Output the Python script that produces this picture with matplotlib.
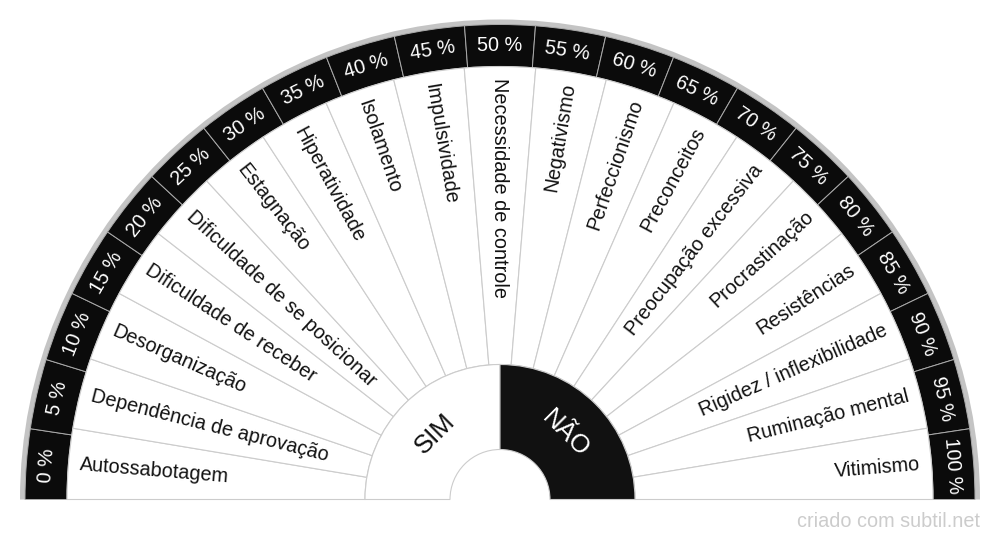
import math
import matplotlib
matplotlib.use("Agg")
from matplotlib import pyplot as plt
from matplotlib.patches import Wedge

# chart content
itens = ["Autossabotagem", "Dependência de aprovação", "Desorganização",
         "Dificuldade de receber", "Dificuldade de se posicionar", "Estagnação",
         "Hiperatividade", "Isolamento", "Impulsividade", "Necessidade de controle",
         "Negativismo", "Perfeccionismo", "Preconceitos", "Preocupação excessiva",
         "Procrastinação", "Resistências", "Rigidez / inflexibilidade",
         "Ruminação mental", "Vitimismo"]
percentuais = [0, 5, 10, 15, 20, 25, 30, 35, 40, 45, 50, 55, 60, 65, 70, 75, 80, 85, 90, 95, 100]
respostas = ["SIM", "NÃO"]

plt.rcParams['font.family'] = ['Liberation Sans', 'DejaVu Sans']

fig = plt.figure(figsize=(10, 5.4), dpi=100)
ax = fig.add_axes([0, 0, 1, 1])
ax.set_xlim(0, 1000)
ax.set_ylim(0, 540)
ax.set_aspect('equal')
ax.axis('off')

cx, cy = 500, 40.5
r_hole, r_mid, r_lab, r_pct, r_out = 50, 135, 433, 475, 480
linha = '#cccccc'

# outer gray rim
ax.add_patch(Wedge((cx, cy), r_out, 0, 180, width=r_out - r_pct, facecolor='#c4c4c4', edgecolor='none'))

# percentage ring
n = len(percentuais)
step = 180.0 / n
for j, p in enumerate(percentuais):
    a0 = 180 - (j + 1) * step
    ax.add_patch(Wedge((cx, cy), r_pct, a0, a0 + step, width=r_pct - r_lab,
                       facecolor='#0b0b0b', edgecolor='#aaaaaa', linewidth=0.7))
    ang = a0 + step / 2
    t = math.radians(ang)
    rr = (r_lab + r_pct) / 2
    ax.text(cx + rr * math.cos(t), cy + rr * math.sin(t), f"{p} %", color='white',
            fontsize=14.3, rotation=ang - 90, rotation_mode='anchor',
            ha='center', va='center')

# label sectors
m = len(itens)
step2 = 180.0 / m
for i, nome in enumerate(itens):
    a0 = 180 - (i + 1) * step2
    ax.add_patch(Wedge((cx, cy), r_lab, a0, a0 + step2, width=r_lab - r_mid,
                       facecolor='white', edgecolor=linha, linewidth=0.8))
    ang = a0 + step2 / 2
    t = math.radians(ang)
    rr = 422
    x, y = cx + rr * math.cos(t), cy + rr * math.sin(t)
    if ang >= 89.9:
        ax.text(x, y, nome, fontsize=14.3, color='#111111', rotation=ang - 180,
                rotation_mode='anchor', ha='left', va='center')
    else:
        ax.text(x, y, nome, fontsize=14.3, color='#111111', rotation=ang,
                rotation_mode='anchor', ha='right', va='center')

# SIM / NAO
cores = ['white', '#111111']
textos = ['#111111', 'white']
for k, resp in enumerate(respostas):
    a0 = 90 - k * 90
    ax.add_patch(Wedge((cx, cy), r_mid, a0, a0 + 90, width=r_mid - r_hole,
                       facecolor=cores[k], edgecolor=linha, linewidth=0.8))
    ang = a0 + 45
    t = math.radians(ang)
    rr = (r_hole + r_mid) / 2
    ax.text(cx + rr * math.cos(t), cy + rr * math.sin(t), resp, color=textos[k],
            fontsize=18.5, rotation=ang - 90, rotation_mode='anchor',
            ha='center', va='center')

ax.text(980, 13, "criado com subtil.net", color='#cccccc', fontsize=14.3,
        ha='right', va='baseline')

fig.savefig("out.png", dpi=100, facecolor='white')
